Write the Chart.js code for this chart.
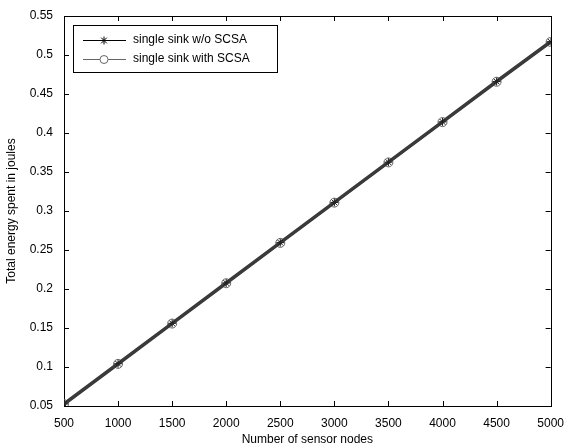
<!DOCTYPE html>
<html>
<head>
<meta charset="utf-8">
<script src="https://cdn.jsdelivr.net/npm/chart.js@4/dist/chart.umd.min.js"></script>
<style>
  html, body { margin: 0; padding: 0; background: #fff; }
  canvas { display: block; }
</style>
</head>
<body>
<canvas id="energyChart" width="566" height="447"></canvas>
<script>
const nodes = [500, 1000, 1500, 2000, 2500, 3000, 3500, 4000, 4500, 5000];
const withoutScsa = [0.0526, 0.1042, 0.1560, 0.2077, 0.2594, 0.3110, 0.3626, 0.4143, 0.4660, 0.5170];
const withScsa = [0.0524, 0.1040, 0.1557, 0.2074, 0.2591, 0.3107, 0.3623, 0.4140, 0.4657, 0.5167];
const xTicks = [500, 1000, 1500, 2000, 2500, 3000, 3500, 4000, 4500, 5000];
const yTicks = [0.05, 0.1, 0.15, 0.2, 0.25, 0.3, 0.35, 0.4, 0.45, 0.5, 0.55];
const seriesNames = ["single sink w/o SCSA", "single sink with SCSA"];

const FONT = "Liberation Sans, Arial, sans-serif";
const ctx = document.getElementById("energyChart").getContext("2d");

// matlab style box with inward ticks and a boxed legend
const matlabFrame = {
  id: "matlabFrame",
  beforeDatasetsDraw(chart) {
    const { ctx, chartArea: a, scales } = chart;
    ctx.save();
    ctx.strokeStyle = "#000";
    ctx.lineWidth = 1;
    ctx.beginPath();
    xTicks.forEach(v => {
      const x = Math.round(scales.x.getPixelForValue(v)) + 0.5;
      ctx.moveTo(x, a.bottom); ctx.lineTo(x, a.bottom - 5);
      ctx.moveTo(x, a.top); ctx.lineTo(x, a.top + 5);
    });
    yTicks.forEach(v => {
      const y = Math.round(scales.y.getPixelForValue(v)) + 0.5;
      ctx.moveTo(a.left, y); ctx.lineTo(a.left + 5, y);
      ctx.moveTo(a.right, y); ctx.lineTo(a.right - 5, y);
    });
    ctx.stroke();
    ctx.strokeRect(Math.round(a.left) + 0.5, Math.round(a.top) + 0.5,
      Math.round(a.right - a.left), Math.round(a.bottom - a.top));
    ctx.restore();
  },
  afterDatasetsDraw(chart) {
    const { ctx, chartArea: a } = chart;
    const bx = a.left + 9, by = a.top + 9, bw = 204, bh = 47;
    ctx.save();
    ctx.fillStyle = "#fff";
    ctx.fillRect(bx, by, bw, bh);
    ctx.strokeStyle = "#000";
    ctx.lineWidth = 1;
    ctx.strokeRect(bx + 0.5, by + 0.5, bw, bh);
    ctx.font = "12px " + FONT;
    ctx.textBaseline = "middle";
    seriesNames.forEach((name, i) => {
      const y = by + 15 + i * 19;
      const ds = chart.data.datasets[i];
      ctx.strokeStyle = i === 0 ? "#000" : "#666";
      ctx.beginPath();
      ctx.moveTo(bx + 10, y + 0.5); ctx.lineTo(bx + 53, y + 0.5);
      ctx.stroke();
      ctx.fillStyle = "#fff";
      Chart.helpers.drawPoint(ctx, {
        pointStyle: ds.pointStyle, radius: 4, borderWidth: 1
      }, bx + 31, y + 0.5);
      ctx.fillStyle = "#000";
      ctx.fillText(name, bx + 60, y);
    });
    ctx.restore();
  }
};

new Chart(ctx, {
  type: "line",
  data: {
    datasets: [
      {
        label: seriesNames[0],
        data: nodes.map((n, i) => ({ x: n, y: withoutScsa[i] })),
        borderColor: "#3a3a3a",
        borderWidth: 3.5,
        pointStyle: "star",
        pointRadius: 4,
        pointBorderColor: "#222",
        pointBorderWidth: 1,
        tension: 0
      },
      {
        label: seriesNames[1],
        data: nodes.map((n, i) => ({ x: n, y: withScsa[i] })),
        borderColor: "#444",
        borderWidth: 2,
        pointStyle: "circle",
        pointRadius: 4.5,
        pointBackgroundColor: "rgba(0,0,0,0)",
        pointBorderColor: "#666",
        pointBorderWidth: 1,
        tension: 0
      }
    ]
  },
  options: {
    responsive: false,
    animation: false,
    layout: { padding: { top: 16, right: 14, left: 0, bottom: 0 } },
    plugins: { legend: { display: false }, tooltip: { enabled: false } },
    scales: {
      x: {
        type: "linear",
        min: 500,
        max: 5000,
        afterBuildTicks: s => { s.ticks = xTicks.map(v => ({ value: v })); },
        afterFit: s => { s.height = 41; },
        grid: { display: false },
        border: { display: false },
        ticks: {
          color: "#000",
          font: { family: FONT, size: 12 },
          padding: 2,
          maxRotation: 0,
          callback: v => String(v)
        },
        title: {
          display: true,
          text: "Number of sensor nodes",
          color: "#000",
          font: { family: FONT, size: 12 },
          padding: { top: 0, bottom: 0 }
        }
      },
      y: {
        type: "linear",
        min: 0.05,
        max: 0.55,
        afterBuildTicks: s => { s.ticks = yTicks.map(v => ({ value: v })); },
        afterFit: s => { s.width = 64; },
        grid: { display: false },
        border: { display: false },
        ticks: {
          color: "#000",
          font: { family: FONT, size: 12 },
          padding: 3,
          callback: v => String(parseFloat(v.toFixed(2)))
        },
        title: {
          display: true,
          text: "Total energy spent in joules",
          color: "#000",
          font: { family: FONT, size: 12 },
          padding: { top: 4, bottom: 0 }
        }
      }
    }
  },
  plugins: [matlabFrame]
});
</script>
</body>
</html>
